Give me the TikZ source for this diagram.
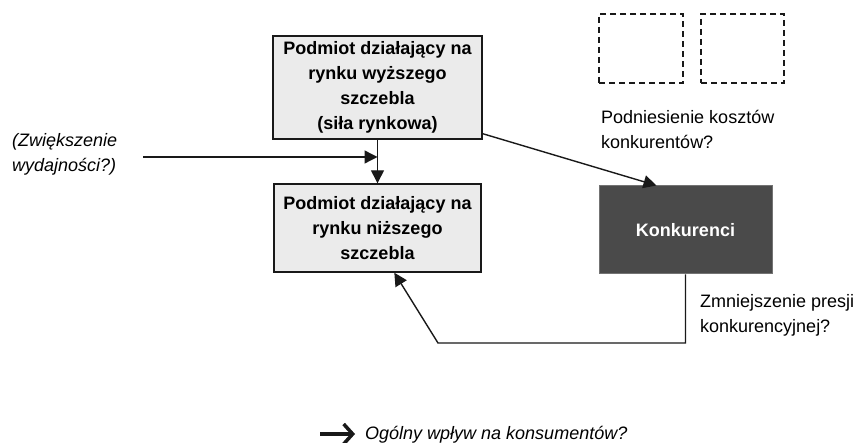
\documentclass[tikz,border=0pt]{standalone}
\usepackage{fontspec}
\setmainfont{Liberation Sans}
\usetikzlibrary{arrows.meta,calc}
\begin{document}
\begin{tikzpicture}[x=1pt,y=-1pt,
  txt/.style={font=\fontsize{18}{25}\selectfont, inner sep=0pt, text=black},
  itxt/.style={font=\fontsize{18}{25}\selectfont\itshape, inner sep=0pt, text=black},
  box/.style={draw=black!90, line width=1.4pt, fill=black!8, align=center, inner sep=0pt,
              font=\fontsize{18}{25}\selectfont\bfseries},
  darkbox/.style={draw=black!55, line width=1pt, fill=black!71, text=white, inner sep=0pt,
              font=\fontsize{18}{25}\selectfont\bfseries},
  dbox/.style={draw=black!90, dash pattern=on 6pt off 4pt, line width=1.4pt, inner sep=0pt},
  arr/.style={draw=black!90, line width=1.4pt, -{Triangle[length=13pt,width=13pt]}},
  legarr/.style={draw=black!90, line width=3.5pt, -{Straight Barb[length=9pt,width=20pt]}}
]
\useasboundingbox (0,0) rectangle (857,443);

% boxes
\node[box, minimum width=209pt, minimum height=103pt] (up) at (377.5,87.5)
  {Podmiot działający na\\rynku wyższego\\szczebla\\(siła rynkowa)};
\node[box, minimum width=207pt, minimum height=88pt] (down) at (377.5,228)
  {Podmiot działający na\\rynku niższego\\szczebla};
\node[darkbox, minimum width=173pt, minimum height=88pt] (konk) at (685.5,230) {Konkurenci};
\node[dbox, minimum width=84pt, minimum height=69pt] (d1) at (641,48.5) {};
\node[dbox, minimum width=83pt, minimum height=69pt] (d2) at (742.5,48.5) {};

% texts
\node[txt, anchor=west, align=left] (cost) at (601,129.5) {Podniesienie kosztów\\konkurentów?};
\node[txt, anchor=west, align=left] (press) at (700,315) {Zmniejszenie presji\\konkurencyjnej?};
\node[itxt, anchor=west, align=left] (eff) at (12,154.5) {(Zwiększenie\\wydajności?)};
\node[itxt, anchor=base west] (total) at (365,440) {Ogólny wpływ na konsumentów?};

% connectors
\draw[arr] (up.south) -- (down.north);
\coordinate (effstart) at (143,157);
\draw[arr] (effstart) -- (effstart -| up.south);
\coordinate (upout) at ($(up.south east)+(0,-6)$);
\draw[arr] (upout) -- ($(konk.north west)+(58,0)$);
\coordinate (fbr) at (konk.south |- 0,343);
\coordinate (fbl) at (438,343);
\draw[arr] (konk.south) -- (fbr) -- (fbl) -- ($(down.south west)+(121,0)$);

% legend arrow
\coordinate (la) at (320,434);
\coordinate (lb) at (355,434);
\draw[legarr] (la) -- (lb);
\end{tikzpicture}
\end{document}
